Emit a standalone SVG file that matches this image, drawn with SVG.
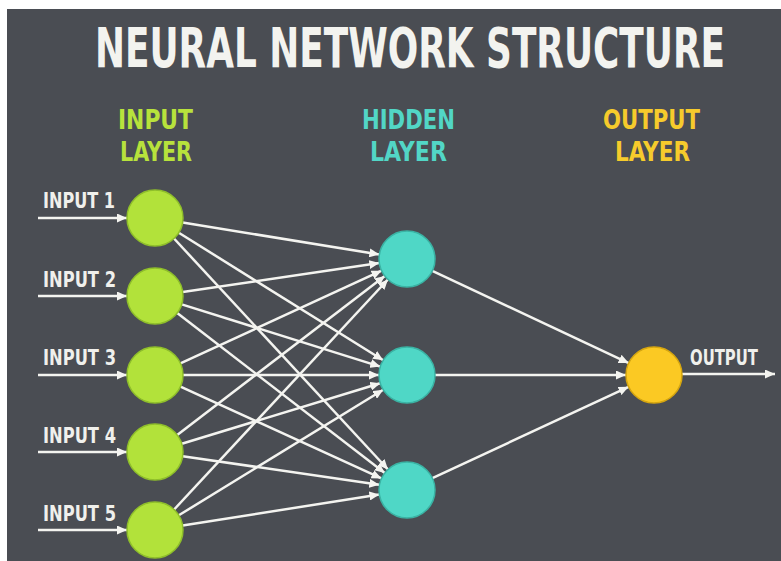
<svg xmlns="http://www.w3.org/2000/svg" width="781" height="561" viewBox="0 0 781 561">
<defs>
<marker id="ah" markerUnits="userSpaceOnUse" markerWidth="11" markerHeight="9" refX="10" refY="4.5" orient="auto">
<path d="M0,0 L10,4.5 L0,9 z" fill="#f4f4f0"/>
</marker>
<style>
.t{font-family:"DejaVu Sans Condensed","DejaVu Sans","Liberation Sans",sans-serif;font-weight:bold;}
.title{font-size:40px;fill:#f3f3ef;}
.lay{font-size:21px;}
.lbl{font-size:22px;fill:#f0f0ec;}
.c line{stroke:#f4f4f0;stroke-width:2.5;marker-end:url(#ah);}
.in{fill:#b2e23a;stroke:#8fbf2a;stroke-width:1.5;}
.hid{fill:#4fd7c6;stroke:#3ab3a4;stroke-width:1.5;}
.out{fill:#fbc923;stroke:#d6a60f;stroke-width:1.5;}
</style>
</defs>
<rect x="0" y="0" width="781" height="561" fill="#ffffff"/>
<rect x="7" y="9" width="774" height="552" fill="#4a4d53"/>
<text class="t title" transform="translate(95,67) scale(1,1.37)" x="0" y="0" textLength="630" lengthAdjust="spacingAndGlyphs">NEURAL NETWORK STRUCTURE</text>
<g id="headers">
<text class="t lay" fill="#b8e23c" transform="translate(0,129) scale(1,1.25)"><tspan x="118" y="0" textLength="75" lengthAdjust="spacingAndGlyphs">INPUT</tspan><tspan x="120" y="25.6" textLength="72" lengthAdjust="spacingAndGlyphs">LAYER</tspan></text>
<text class="t lay" fill="#52d6c6" transform="translate(0,129) scale(1,1.25)"><tspan x="362" y="0" textLength="93" lengthAdjust="spacingAndGlyphs">HIDDEN</tspan><tspan x="370" y="25.6" textLength="77" lengthAdjust="spacingAndGlyphs">LAYER</tspan></text>
<text class="t lay" fill="#f6cb2c" transform="translate(0,129) scale(1,1.25)"><tspan x="603" y="0" textLength="97" lengthAdjust="spacingAndGlyphs">OUTPUT</tspan><tspan x="615" y="25.6" textLength="75" lengthAdjust="spacingAndGlyphs">LAYER</tspan></text>
</g>
<g id="connectors" class="c">
<line x1="38" y1="218" x2="127" y2="218"/>
<line x1="38" y1="296" x2="127" y2="296"/>
<line x1="38" y1="375" x2="127" y2="375"/>
<line x1="38" y1="452" x2="127" y2="452"/>
<line x1="38" y1="530" x2="127" y2="530"/>
<line x1="182.6" y1="222.5" x2="379.4" y2="254.5"/>
<line x1="178.8" y1="232.8" x2="383.2" y2="360.2"/>
<line x1="174.0" y1="238.5" x2="388.0" y2="469.5"/>
<line x1="182.7" y1="291.9" x2="379.3" y2="263.1"/>
<line x1="181.7" y1="304.4" x2="380.3" y2="366.6"/>
<line x1="177.2" y1="313.1" x2="384.8" y2="472.9"/>
<line x1="180.4" y1="363.3" x2="381.6" y2="270.7"/>
<line x1="183" y1="375" x2="379" y2="375"/>
<line x1="180.5" y1="386.6" x2="381.5" y2="478.4"/>
<line x1="177.2" y1="435.0" x2="384.8" y2="276.0"/>
<line x1="181.8" y1="443.8" x2="380.2" y2="383.2"/>
<line x1="182.7" y1="456.2" x2="379.3" y2="484.8"/>
<line x1="174.1" y1="509.5" x2="387.9" y2="279.5"/>
<line x1="178.8" y1="515.3" x2="383.2" y2="389.7"/>
<line x1="182.6" y1="525.6" x2="379.4" y2="494.4"/>
<line x1="432.3" y1="270.9" x2="628.7" y2="363.1"/>
<line x1="435" y1="375" x2="626" y2="375"/>
<line x1="432.4" y1="478.2" x2="628.6" y2="386.8"/>
<line x1="682" y1="374" x2="775" y2="374"/>
</g>
<g id="input1"><text class="t lbl" x="43" y="208" textLength="72" lengthAdjust="spacingAndGlyphs">INPUT 1</text><circle class="in" cx="155" cy="218" r="28"/></g>
<g id="input2"><text class="t lbl" x="43" y="287" textLength="73" lengthAdjust="spacingAndGlyphs">INPUT 2</text><circle class="in" cx="155" cy="296" r="28"/></g>
<g id="input3"><text class="t lbl" x="43" y="365" textLength="73" lengthAdjust="spacingAndGlyphs">INPUT 3</text><circle class="in" cx="155" cy="375" r="28"/></g>
<g id="input4"><text class="t lbl" x="43" y="443" textLength="73" lengthAdjust="spacingAndGlyphs">INPUT 4</text><circle class="in" cx="155" cy="452" r="28"/></g>
<g id="input5"><text class="t lbl" x="43" y="521" textLength="73" lengthAdjust="spacingAndGlyphs">INPUT 5</text><circle class="in" cx="155" cy="530" r="28"/></g>
<g id="hidden1"><circle class="hid" cx="407" cy="259" r="28"/></g>
<g id="hidden2"><circle class="hid" cx="407" cy="375" r="28"/></g>
<g id="hidden3"><circle class="hid" cx="407" cy="490" r="28"/></g>
<g id="output"><circle class="out" cx="654" cy="375" r="28"/><text class="t lbl" x="690" y="365" textLength="68" lengthAdjust="spacingAndGlyphs">OUTPUT</text></g>
</svg>
